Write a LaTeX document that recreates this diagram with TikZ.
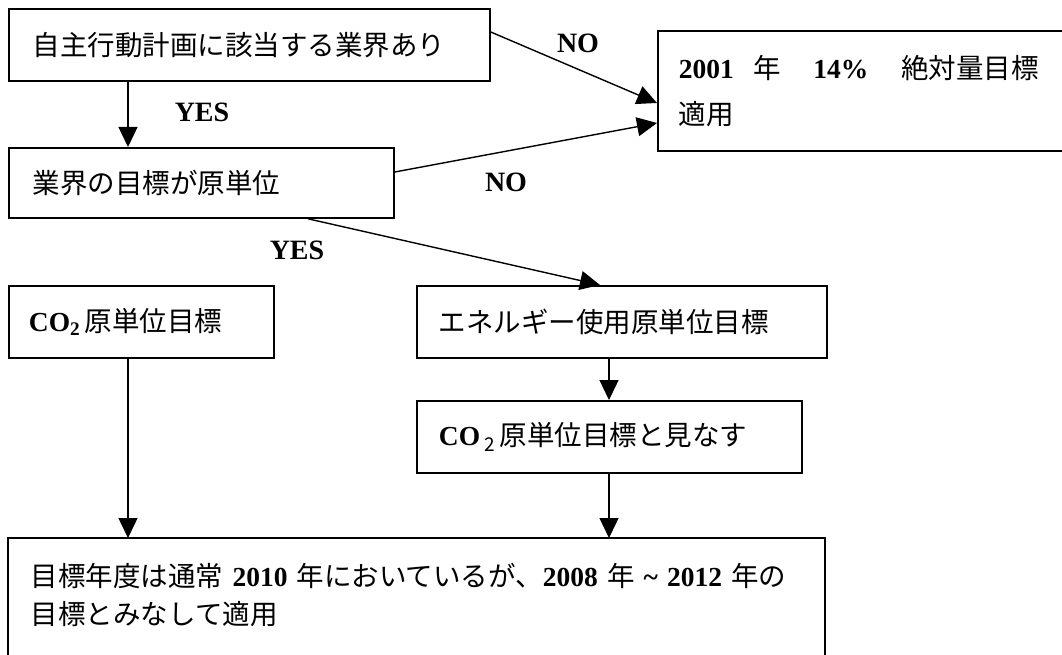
\documentclass[tikz,border=0pt]{standalone}
\usepackage{fontspec}
\setmainfont{Liberation Serif}
\newfontfamily\jp{Noto Sans CJK JP}
\usetikzlibrary{arrows.meta,calc}
\newcommand\latn[1]{{\rmfamily\bfseries #1}}
\tikzset{
  box/.style={draw, line width=1.8pt, anchor=north west, inner ysep=0pt, align=left,
    font=\fontsize{27.5}{33}\selectfont\jp},
  arr/.style={line width=1.4pt, -{Triangle[length=20pt,width=19pt]}},
  lbl/.style={font=\fontsize{28}{33}\selectfont\rmfamily\bfseries, inner sep=0pt},
}
\begin{document}
\begin{tikzpicture}[x=1pt,y=1pt]
\useasboundingbox (0,0) rectangle (1062,-655);
\clip (0,0) rectangle (1062,-655);
\fill[white] (0,0) rectangle (1062,-655);

\node[box, inner xsep=24pt, text width=433pt, minimum height=72pt] (a) at (8,-8)
  {自主行動計画に該当する業界あり};
\node[box, inner xsep=21pt, text width=367pt, minimum height=120pt,
  font=\fontsize{27.5}{46}\selectfont\jp] (b) at (657,-30)
  {\mbox{\latn{2001}\hspace{20pt}年\hspace{32pt}\latn{14\%}\hspace{33pt}絶対量目標}\\適用};
\node[box, inner xsep=24pt, text width=337pt, minimum height=70pt] (c) at (8,-147)
  {業界の目標が原単位};
\node[box, inner xsep=20pt, text width=225pt, minimum height=72pt] (d) at (8,-285)
  {\latn{CO}\textsubscript{\latn{2}}\,原単位目標};
\node[box, inner xsep=22pt, text width=366pt, minimum height=72pt] (e) at (416,-285)
  {エネルギー使用原単位目標};
\node[box, inner xsep=22pt, text width=341pt, minimum height=72pt] (f) at (416,-400)
  {\latn{CO}\,\raisebox{-0.35ex}{\fontsize{19}{20}\selectfont 2}\,原単位目標と見なす};
\node[box, draw=none, inner xsep=22pt, text width=771pt, minimum height=112pt,
  font=\fontsize{27.5}{38}\selectfont\jp] (g) at (8,-538)
  {\makebox[773pt][s]{目標年度は通常 \latn{2010} 年においているが、\latn{2008} 年 \latn{\char`\~} \latn{2012} 年の}\\目標とみなして適用};
\draw[line width=1.8pt] ($(g.south west)+(0,-40)$) -- (g.north west) -- (g.north east) -- ($(g.south east)+(0,-40)$);

\draw[arr] ($(a.south west)+(120,0)$) -- ($(c.north west)+(120,0)$);
\draw[arr] ($(a.north east)+(0,-24)$) -- ($(b.north west)+(0,-73)$);
\draw[arr] ($(c.north east)+(0,-25)$) -- ($(b.north west)+(0,-93)$);
\draw[arr] ($(c.south west)+(300,0)$) -- ($(e.north west)+(184,0)$);
\draw[arr] ($(e.south west)+(193,0)$) -- ($(f.north west)+(193,0)$);
\draw[arr] ($(d.south west)+(120,0)$) -- ($(g.north west)+(120,0)$);
\draw[arr] ($(f.south west)+(193,0)$) -- ($(g.north west)+(601,0)$);

\node[lbl] (yes1) at (202,-112) {YES};
\node[lbl] (no1) at (578,-43) {NO};
\node[lbl] (no2) at (506,-182) {NO};
\node[lbl] (yes2) at (297,-250) {YES};
\end{tikzpicture}
\end{document}
